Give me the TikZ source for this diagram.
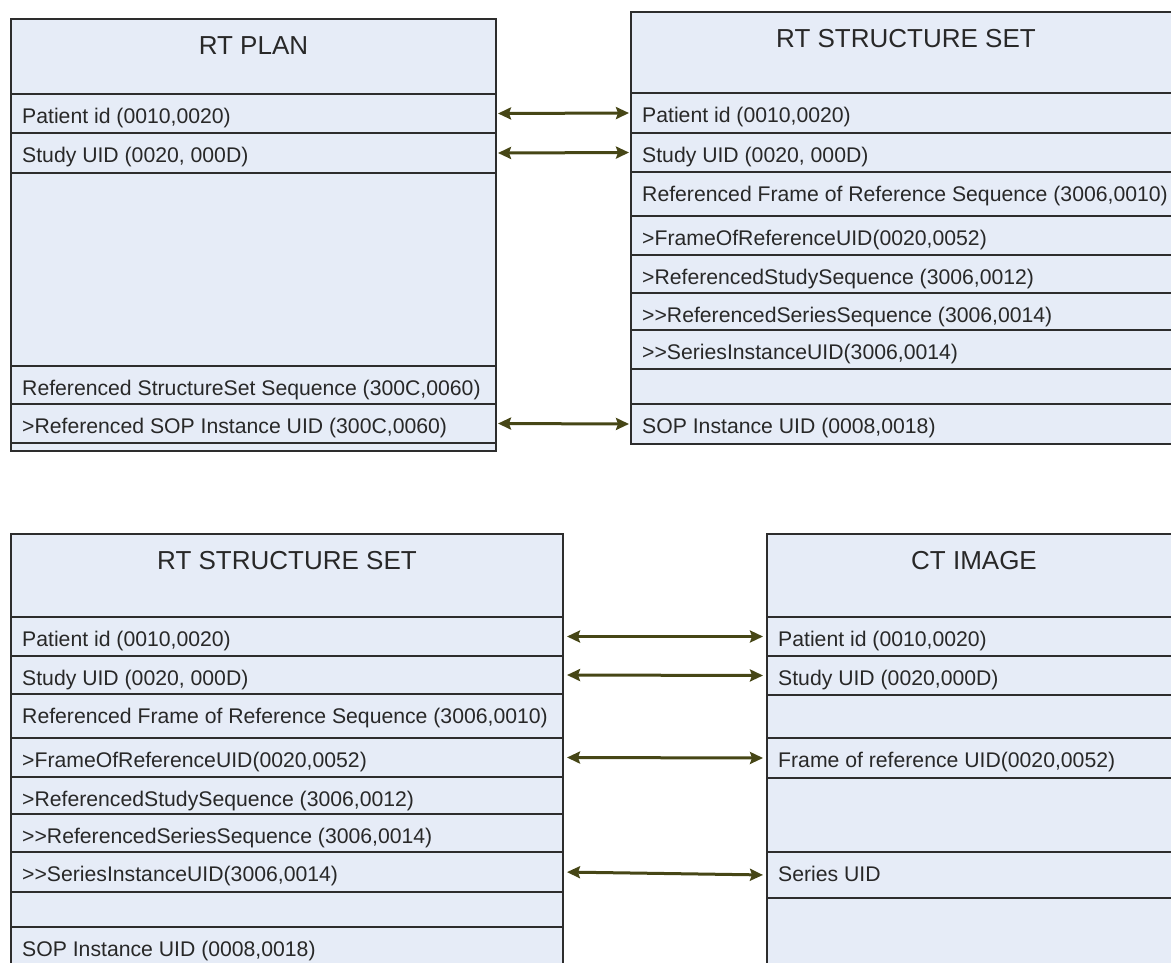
\documentclass[tikz,border=0pt]{standalone}
\usepackage{fontspec}
\setmainfont{Liberation Sans}
\usetikzlibrary{arrows.meta}

\definecolor{cellfill}{RGB}{230,236,247}
\definecolor{cellline}{RGB}{45,45,45}
\definecolor{linkcol}{RGB}{70,70,22}
\definecolor{txtcol}{RGB}{40,40,40}

\tikzset{
  fieldcell/.style={rectangle, draw=cellline, fill=cellfill, line width=1.5pt,
                    inner sep=0pt, outer sep=0pt},
  fieldtext/.style={inner sep=0pt, text=txtcol, font=\fontsize{21.2}{21.2}\selectfont},
  titletext/.style={inner sep=0pt, text=txtcol, font=\fontsize{26}{26}\selectfont},
  frame/.style={draw=cellline, line width=2pt},
  link/.style={draw=linkcol, line width=3pt,
               {Stealth[length=13pt,width=12pt,inset=2pt]}-{Stealth[length=13pt,width=12pt,inset=2pt]}},
}

% one row of a table: name, left x, top y, bottom y, width, text
\newcommand{\fieldrow}[6]{%
  \node[fieldcell, minimum width=#5pt, minimum height={(#4-#3)*1pt},
        anchor=north west] (#1) at (#2,#3) {};
  \node[fieldtext, anchor=base west] (#1-t) at ([xshift=11pt,yshift=-29pt]#1.north west) {#6};
}
% title row of a table: name, left x, top y, bottom y, width, title
\newcommand{\titlerow}[6]{%
  \node[fieldcell, minimum width=#5pt, minimum height={(#4-#3)*1pt},
        anchor=north west] (#1) at (#2,#3) {};
  \node[titletext, anchor=base] (#1-t) at ([yshift=-35pt]#1.north) {#6};
}

\begin{document}
\begin{tikzpicture}[x=1pt, y=-1pt]
\useasboundingbox (0,0) rectangle (1171,962);
\clip (0,0) rectangle (1171,962);

% ---------- RT PLAN ----------
\titlerow{pl-head}{11}{19}{94}{485}{RT PLAN}
\fieldrow{pl-pat}{11}{94}{133}{485}{Patient id (0010,0020)}
\fieldrow{pl-stu}{11}{133}{173}{485}{Study UID (0020, 000D)}
\fieldrow{pl-gap}{11}{173}{366}{485}{}
\fieldrow{pl-rss}{11}{366}{404}{485}{Referenced StructureSet Sequence (300C,0060)}
\fieldrow{pl-sop}{11}{404}{443}{485}{>Referenced SOP Instance UID (300C,0060)}
\fieldrow{pl-end}{11}{443}{451}{485}{}
\draw[frame] (pl-head.north west) rectangle (pl-end.south east);

% ---------- RT STRUCTURE SET (top) ----------
\titlerow{sa-head}{631}{12}{93}{550}{RT STRUCTURE SET}
\fieldrow{sa-pat}{631}{93}{133}{550}{Patient id (0010,0020)}
\fieldrow{sa-stu}{631}{133}{172}{550}{Study UID (0020, 000D)}
\fieldrow{sa-rfr}{631}{172}{216}{550}{Referenced Frame of Reference Sequence (3006,0010)}
\fieldrow{sa-for}{631}{216}{255}{550}{>FrameOfReferenceUID(0020,0052)}
\fieldrow{sa-rst}{631}{255}{293}{550}{>ReferencedStudySequence (3006,0012)}
\fieldrow{sa-rse}{631}{293}{330}{550}{>{}>ReferencedSeriesSequence (3006,0014)}
\fieldrow{sa-sii}{631}{330}{369}{550}{>{}>SeriesInstanceUID(3006,0014)}
\fieldrow{sa-gap}{631}{369}{404}{550}{}
\fieldrow{sa-sop}{631}{404}{444}{550}{SOP Instance UID (0008,0018)}
\draw[frame] (sa-head.north west) rectangle (sa-sop.south east);

% ---------- RT STRUCTURE SET (bottom) ----------
\titlerow{sb-head}{11}{534}{617}{552}{RT STRUCTURE SET}
\fieldrow{sb-pat}{11}{617}{656}{552}{Patient id (0010,0020)}
\fieldrow{sb-stu}{11}{656}{694}{552}{Study UID (0020, 000D)}
\fieldrow{sb-rfr}{11}{694}{738}{552}{Referenced Frame of Reference Sequence (3006,0010)}
\fieldrow{sb-for}{11}{738}{777}{552}{>FrameOfReferenceUID(0020,0052)}
\fieldrow{sb-rst}{11}{777}{814}{552}{>ReferencedStudySequence (3006,0012)}
\fieldrow{sb-rse}{11}{814}{852}{552}{>{}>ReferencedSeriesSequence (3006,0014)}
\fieldrow{sb-sii}{11}{852}{892}{552}{>{}>SeriesInstanceUID(3006,0014)}
\fieldrow{sb-gap}{11}{892}{927}{552}{}
\fieldrow{sb-sop}{11}{927}{975}{552}{SOP Instance UID (0008,0018)}
\draw[frame] (sb-head.north west) rectangle (sb-sop.south east);

% ---------- CT IMAGE ----------
\titlerow{ct-head}{767}{534}{617}{414}{CT IMAGE}
\fieldrow{ct-pat}{767}{617}{656}{414}{Patient id (0010,0020)}
\fieldrow{ct-stu}{767}{656}{695}{414}{Study UID (0020,000D)}
\fieldrow{ct-ga1}{767}{695}{738}{414}{}
\fieldrow{ct-for}{767}{738}{778}{414}{Frame of reference UID(0020,0052)}
\fieldrow{ct-ga2}{767}{778}{852}{414}{}
\fieldrow{ct-ser}{767}{852}{898}{414}{Series UID}
\fieldrow{ct-ga3}{767}{898}{975}{414}{}
\draw[frame] (ct-head.north west) rectangle (ct-ga3.south east);

% ---------- links ----------
\draw[link, shorten <=2pt, shorten >=2pt] (pl-pat.east) -- (sa-pat.west);
\draw[link, shorten <=2pt, shorten >=2pt] (pl-stu.east) -- (sa-stu.west);
\draw[link, shorten <=2pt, shorten >=2pt] (pl-sop.east) -- (sa-sop.west);

\draw[link, shorten <=4pt, shorten >=4pt] (sb-pat.east) -- (ct-pat.west);
\draw[link, shorten <=4pt, shorten >=4pt] (sb-stu.east) -- (ct-stu.west);
\draw[link, shorten <=4pt, shorten >=4pt] (sb-for.east) -- (ct-for.west);
\draw[link, shorten <=4pt, shorten >=4pt] (sb-sii.east) -- (ct-ser.west);
\end{tikzpicture}
\end{document}
